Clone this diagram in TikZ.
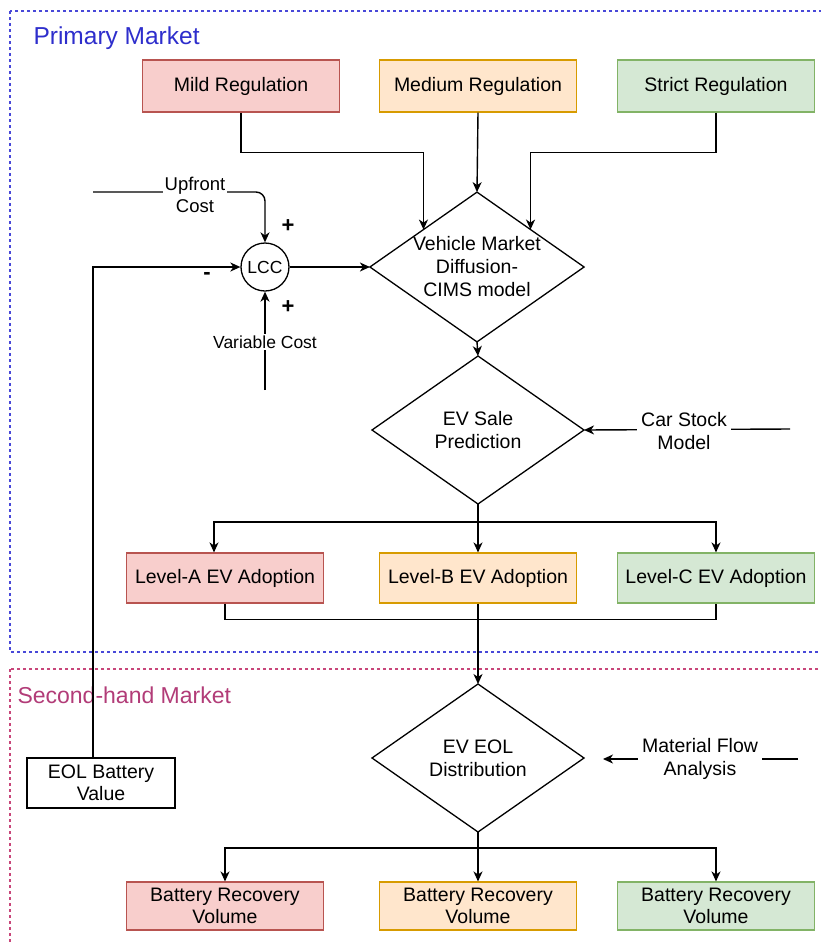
\documentclass[tikz,border=0pt]{standalone}
\usepackage{fontspec}
\setmainfont{Liberation Sans}
\usetikzlibrary{shapes.geometric,arrows.meta,calc}
\definecolor{redF}{HTML}{F8CECC}\definecolor{redD}{HTML}{B85450}
\definecolor{orgF}{HTML}{FFE6CC}\definecolor{orgD}{HTML}{D79B00}
\definecolor{grnF}{HTML}{D5E8D4}\definecolor{grnD}{HTML}{82B366}
\definecolor{pmBlue}{HTML}{2E2ECC}\definecolor{dBlue}{HTML}{4848D8}
\definecolor{shRed}{HTML}{B23C78}\definecolor{dRed}{HTML}{C8467A}
\tikzset{
  boxbase/.style={draw, line width=1.1pt, minimum width=197pt, minimum height=50pt, inner sep=1pt, align=center, font=\fontsize{19.5}{22.5}\selectfont},
  redbox/.style={boxbase, fill=redF, draw=redD},
  orgbox/.style={boxbase, fill=orgF, draw=orgD},
  grnbox/.style={boxbase, fill=grnF, draw=grnD},
  plainbox/.style={boxbase, minimum width=148pt},
  dia/.style={draw, diamond, aspect=1.43, line width=1.3pt, minimum width=212pt, minimum height=148pt, inner sep=0pt, outer sep=0pt, align=center, font=\fontsize{19.5}{23}\selectfont},
  conn/.style={line width=1.4pt},
  arr/.style={conn, -{Stealth[length=10pt,width=9pt,inset=3pt]}},
  lbl/.style={fill=white, inner sep=1.5pt, align=center, font=\fontsize{19.5}{22.5}\selectfont},
  sign/.style={font=\fontsize{22}{22}\selectfont\bfseries},
  region/.style={line width=1.3pt, dash pattern=on 3pt off 3pt},
}
\begin{document}
\begin{tikzpicture}[x=1pt,y=-1pt]
\clip (0,0) rectangle (821,943);
\fill[white] (0,0) rectangle (821,943);
% regions
\draw[region, draw=dBlue] (10,11) rectangle (840,652);
\draw[region, draw=dRed] (10,669) rectangle (840,960);
\node[anchor=west, text=pmBlue, font=\fontsize{24.5}{24.5}\selectfont] (pm) at (30,38) {Primary Market};
\node[anchor=west, text=shRed, font=\fontsize{23}{23}\selectfont] (sm) at (14,695) {Second-hand Market};
% regulation boxes
\node[redbox, minimum height=52pt] (mild) at (241,86) {Mild Regulation};
\node[orgbox, minimum height=52pt] (med) at (478,86) {Medium Regulation};
\node[grnbox, minimum height=52pt] (strict) at (716,86) {Strict Regulation};
% diamonds
\node[dia] (cims) at (477,267) {Vehicle Market\\Diffusion-\\CIMS model};
\node[dia] (sale) at (478,430) {EV Sale\\Prediction};
\node[dia] (eold) at (478,758) {EV EOL\\Distribution};
% LCC
\node[draw, circle, line width=1.3pt, minimum size=48pt, inner sep=0pt, font=\fontsize{17.5}{20}\selectfont] (lcc) at (265,267) {LCC};
% adoption boxes
\node[redbox] (la) at (225,578) {Level-A EV Adoption};
\node[orgbox] (lb) at (478,578) {Level-B EV Adoption};
\node[grnbox] (lc) at (716,578) {Level-C EV Adoption};
% recovery boxes
\node[redbox, minimum height=48pt] (ra) at (225,906) {Battery Recovery\\Volume};
\node[orgbox, minimum height=48pt] (rb) at (478,906) {Battery Recovery\\Volume};
\node[grnbox, minimum height=48pt] (rc) at (716,906) {Battery Recovery\\Volume};
% EOL battery value
\node[plainbox, minimum height=50pt] (eol) at (101,783) {EOL Battery\\Value};
% free ends
\coordinate (upS) at (93,192);
\coordinate (vcS) at (265,390);
\coordinate (csS) at (790,429);
\coordinate (mfS) at (798,759);
\coordinate (mfE) at (603,759);
% connectors
\draw[arr] (mild.south) -- ++(0,40) -| (cims.north west);
\draw[arr] (med.south) -- (cims.north);
\draw[arr] (strict.south) -- ++(0,40) -| (cims.north east);
\draw[arr, rounded corners=9pt] (upS) -| (lcc.north);
\draw[arr] (vcS) -- (lcc.south);
\draw[arr] ([xshift=-8pt]eol.north) |- (lcc.west);
\draw[arr] (lcc.east) -- (cims.west);
\draw[arr] (cims.south) -- (sale.north);
\draw[arr] (csS) -- (sale.east);
\draw[arr] (sale.south) -- (lb.north);
\draw[arr] (sale.south) -- ++(0,18) -| ([xshift=-11pt]la.north);
\draw[arr] (sale.south) -- ++(0,18) -| (lc.north);
\draw[conn] (la.south) -- ++(0,16) -| (lc.south);
\draw[arr] (lb.south) -- (eold.north);
\draw[arr] (mfS) -- (mfE);
\draw[arr] (eold.south) -- (rb.north);
\draw[arr] (eold.south) -- ++(0,16) -| (ra.north);
\draw[arr] (eold.south) -- ++(0,16) -| (rc.north);
% labels
\node[lbl, font=\fontsize{18.5}{22}\selectfont] (upL) at (195,195) {Upfront\\Cost};
\node[lbl, font=\fontsize{17.5}{21}\selectfont] (vcL) at (265,342) {Variable Cost};
\node[lbl, inner sep=4pt] (csL) at (684,431) {Car Stock\\Model};
\node[lbl, inner sep=4pt] (mfL) at (700,759) {Material Flow\\Analysis};
\node[sign] (p1) at (288,226) {+};
\node[sign] (p2) at (288,307) {+};
\node[sign] (m1) at (207,276) {-};
\end{tikzpicture}
\end{document}
